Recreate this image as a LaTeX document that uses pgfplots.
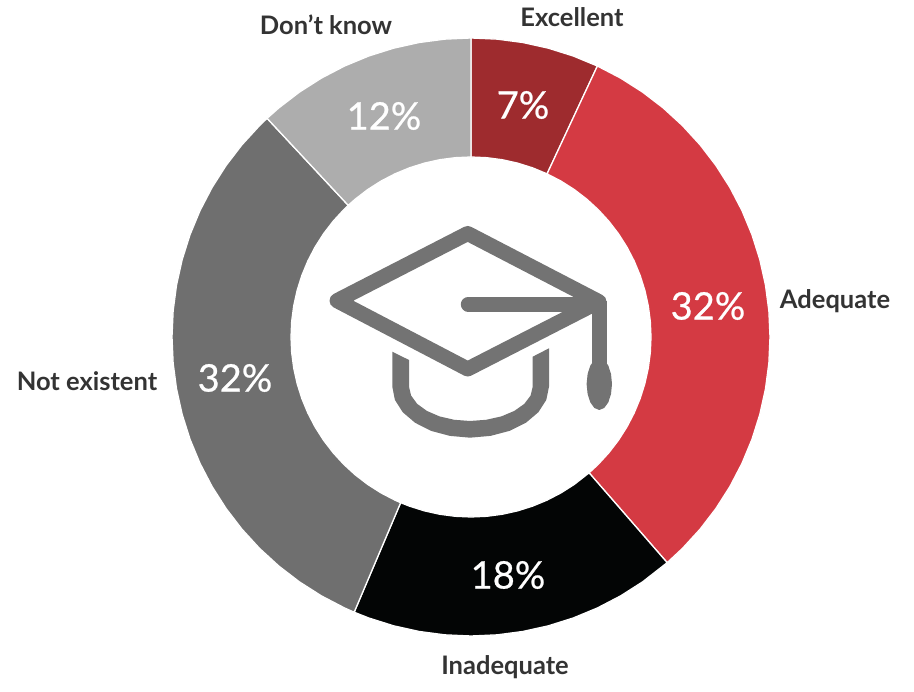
\documentclass[border=0pt]{standalone}
\usepackage{fontspec}
\setmainfont{Lato}
\newfontfamily\valfont[FakeBold=0.6]{Lato}
\usepackage{pgfplots}
\pgfplotsset{compat=1.18}
\definecolor{cExcellent}{HTML}{9E2B2E}
\definecolor{cAdequate}{HTML}{D43A43}
\definecolor{cInadequate}{HTML}{030505}
\definecolor{cNone}{HTML}{6F6F6F}
\definecolor{cDontKnow}{HTML}{ADADAD}
\definecolor{cIcon}{HTML}{737373}
\definecolor{cLabel}{HTML}{333333}
\tikzset{
  cat/.style={font=\fontsize{25.5}{25.5}\selectfont\bfseries, text=cLabel, anchor=center},
  val/.style={font=\fontsize{38}{38}\selectfont\valfont, text=white, anchor=center},
}
\begin{document}
\begin{tikzpicture}
\begin{axis}[
  scale only axis, width=914pt, height=692pt,
  xmin=-471, xmax=443, ymin=-355, ymax=337,
  hide axis,
  slice/.style={data cs=polar, draw=white, line width=1.3pt, line join=round},
]
% hidden axis adds nothing to the page size, so span it here
\path (axis cs:-471,-355) rectangle (axis cs:443,337);
% ring slices: (angle, radius), 7 / 32 / 18 / 32 / 12 percent
\addplot[slice, fill=cExcellent] coordinates {
  (90,299) (85,299) (80,299) (75,299) (70,299) (65,299)
  (65,180) (70,180) (75,180) (80,180) (85,180) (90,180)
} -- cycle;
\addplot[slice, fill=cAdequate] coordinates {
  (65,299) (60,299) (55,299) (50,299) (45,299) (40,299) (35,299) (30,299) (25,299) (20,299) (15,299) (10,299) (5,299)
  (0,299) (-5,299) (-10,299) (-15,299) (-20,299) (-25,299) (-30,299) (-35,299) (-40,299) (-45,299) (-49,299)
  (-49,180) (-45,180) (-40,180) (-35,180) (-30,180) (-25,180) (-20,180) (-15,180) (-10,180) (-5,180) (0,180)
  (5,180) (10,180) (15,180) (20,180) (25,180) (30,180) (35,180) (40,180) (45,180) (50,180) (55,180) (60,180) (65,180)
} -- cycle;
\addplot[slice, fill=cInadequate] coordinates {
  (-49,299) (-55,299) (-60,299) (-65,299) (-70,299) (-75,299) (-80,299) (-85,299) (-90,299) (-95,299) (-100,299) (-105,299) (-110,299) (-113,299)
  (-113,180) (-110,180) (-105,180) (-100,180) (-95,180) (-90,180) (-85,180) (-80,180) (-75,180) (-70,180) (-65,180) (-60,180) (-55,180) (-49,180)
} -- cycle;
\addplot[slice, fill=cNone] coordinates {
  (-113,299) (-115,299) (-120,299) (-125,299) (-130,299) (-135,299) (-140,299) (-145,299) (-150,299) (-155,299) (-160,299) (-165,299) (-170,299)
  (-175,299) (-180,299) (-185,299) (-190,299) (-195,299) (-200,299) (-205,299) (-210,299) (-215,299) (-220,299) (-225,299) (-227,299)
  (-227,180) (-225,180) (-220,180) (-215,180) (-210,180) (-205,180) (-200,180) (-195,180) (-190,180) (-185,180) (-180,180)
  (-175,180) (-170,180) (-165,180) (-160,180) (-155,180) (-150,180) (-145,180) (-140,180) (-135,180) (-130,180) (-125,180) (-120,180) (-115,180) (-113,180)
} -- cycle;
\addplot[slice, fill=cDontKnow] coordinates {
  (-227,299) (-230,299) (-235,299) (-240,299) (-245,299) (-250,299) (-255,299) (-260,299) (-265,299) (-270,299)
  (-270,180) (-265,180) (-260,180) (-255,180) (-250,180) (-245,180) (-240,180) (-235,180) (-230,180) (-227,180)
} -- cycle;
% mortarboard icon
\addplot[cIcon, line width=15pt, line join=round] coordinates {
  (-3.3,103.5) (-134,36.3) (-3.3,-32) (128,35.3)
} -- cycle;
\addplot[cIcon, line width=15pt, line cap=round] coordinates {(-2.7,32.7) (127.3,32.7)};
\addplot[cIcon, line width=15pt] coordinates {(128.3,36.3) (128.3,-29.7)};
\addplot[fill=cIcon, draw=none] coordinates {
  (128.3,-21) (133.2,-23) (137.3,-28.6) (140,-37) (141,-47) (140,-57) (137.3,-65.4) (133.2,-71)
  (128.3,-73) (123.4,-71) (119.3,-65.4) (116.6,-57) (115.6,-47) (116.6,-37) (119.3,-28.6) (123.4,-23)
} -- cycle;
\addplot[fill=cIcon, draw=none] coordinates {
  (-78.7,-14.7) (-78.7,-49.7) (-76.1,-62.9) (-68.3,-75.2) (-55.9,-85.8) (-39.9,-93.9) (-21.1,-98.9) (-1,-100.7)
  (19.5,-98.9) (38.5,-93.9) (54.9,-85.8) (67.4,-75.2) (75.3,-62.9) (78,-49.7) (78,-11.3)
  (61.7,-19.7) (61.7,-49.7) (59.6,-58.6) (53.3,-66.9) (43.3,-73.95) (30.4,-79.4) (15.2,-82.8) (-1,-84)
  (-16.8,-82.8) (-31.5,-79.4) (-44.1,-73.95) (-53.8,-66.9) (-59.9,-58.6) (-62,-49.7) (-62,-23)
} -- cycle;
% values
\node[val] at (axis cs:52,232) {7\%};
\node[val] at (axis cs:-87,221) {12\%};
\node[val] at (axis cs:237,31) {32\%};
\node[val] at (axis cs:37,-238) {18\%};
\node[val] at (axis cs:-236,-41) {32\%};
% categories
\node[cat] at (axis cs:101,320) {Excellent};
\node[cat] at (axis cs:364,36) {Adequate};
\node[cat] at (axis cs:34,-330) {Inadequate};
\node[cat] at (axis cs:-384,-44) {Not existent};
\node[cat] at (axis cs:-145,312) {Don’t know};
\end{axis}
\end{tikzpicture}
\end{document}
